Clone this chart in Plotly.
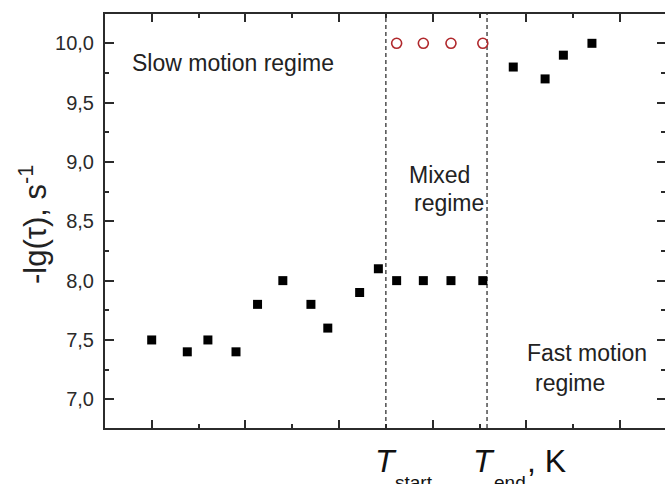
import plotly.graph_objects as go

# ---- data (x in arbitrary temperature units; axis has no numeric labels) ----
slow_x = [0.0, 0.76, 1.20, 1.80, 2.26, 2.80, 3.40, 3.76, 4.44, 4.84]
slow_y = [7.5, 7.4, 7.5, 7.4, 7.8, 8.0, 7.8, 7.6, 7.9, 8.1]

mixed_x = [5.23, 5.80, 6.39, 7.07]
mixed_slow_y = [8.0, 8.0, 8.0, 8.0]
mixed_fast_y = [10.0, 10.0, 10.0, 10.0]

fast_x = [7.72, 8.40, 8.79, 9.40]
fast_y = [9.8, 9.7, 9.9, 10.0]

T_start = 5.0
T_end = 7.16

y_tickvals = [7.0, 7.5, 8.0, 8.5, 9.0, 9.5, 10.0]
y_ticktext = ["7,0", "7,5", "8,0", "8,5", "9,0", "9,5", "10,0"]

FONT = "Arial, Liberation Sans, sans-serif"
AX = "#2b2b2b"

fig = go.Figure()

sq = dict(symbol="square", size=9, color="black", line=dict(width=0))
fig.add_trace(go.Scatter(x=slow_x, y=slow_y, mode="markers", marker=sq, showlegend=False))
fig.add_trace(go.Scatter(x=mixed_x, y=mixed_slow_y, mode="markers", marker=sq, showlegend=False))
fig.add_trace(go.Scatter(x=fast_x, y=fast_y, mode="markers", marker=sq, showlegend=False))
fig.add_trace(go.Scatter(x=mixed_x, y=mixed_fast_y, mode="markers",
                         marker=dict(symbol="circle-open", size=10, color="#b0282c",
                                     line=dict(width=1.6, color="#b0282c")),
                         showlegend=False))

# right-side ticks without a visible frame line
fig.add_trace(go.Scatter(x=[None], y=[None], yaxis="y2", showlegend=False))

for xv in (T_start, T_end):
    fig.add_shape(type="line", xref="x", yref="paper", x0=xv, x1=xv, y0=0, y1=1,
                  line=dict(color="#333333", width=1.3, dash="4px,3px"), layer="below")

yr = [6.758, 10.247]
xr = [-0.997, 10.96]

PLOT_TOP, PLOT_BOTTOM, PLOT_LEFT, PLOT_W = 14, 428, 105, 560
H = PLOT_BOTTOM - PLOT_TOP


def py(v):
    return (PLOT_BOTTOM - v) / H


def px(v):
    return (v - PLOT_LEFT) / PLOT_W


fig.update_layout(
    width=665, height=484,
    margin=dict(l=105, r=0, t=14, b=56),
    paper_bgcolor="white", plot_bgcolor="white",
    font=dict(family=FONT, color="#222222"),
    xaxis=dict(range=xr, showgrid=False, zeroline=False, showline=True,
               linecolor=AX, linewidth=2, mirror="ticks",
               ticks="inside", ticklen=8, tickwidth=2, tickcolor=AX,
               tickvals=[0, 2, 4, 6, 8, 10], showticklabels=False,
               minor=dict(ticks="inside", ticklen=4, tickwidth=1.5, tickcolor=AX,
                          tickvals=[1, 3, 5, 7, 9])),
    yaxis=dict(range=yr, showgrid=False, zeroline=False, showline=True,
               linecolor=AX, linewidth=2,
               ticks="inside", ticklen=9, tickwidth=2, tickcolor=AX,
               tickvals=y_tickvals, ticktext=y_ticktext, ticklabelstandoff=5,
               tickfont=dict(size=20, family=FONT, color="#2a2a2a"),
               minor=dict(ticks="inside", ticklen=4, tickwidth=1.5, tickcolor=AX,
                          tickvals=[6.75, 7.25, 7.75, 8.25, 8.75, 9.25, 9.75, 10.25])),
    yaxis2=dict(range=yr, overlaying="y", side="right", showgrid=False, zeroline=False,
                showline=False, ticks="inside", ticklen=8, tickwidth=2, tickcolor=AX,
                tickvals=y_tickvals, showticklabels=False,
                minor=dict(ticks="inside", ticklen=4, tickwidth=1.5, tickcolor=AX,
                           tickvals=[7.25, 7.75, 8.25, 8.75, 9.25, 9.75])),
)

txt = dict(size=23, family=FONT, color="#222222")
fig.add_annotation(text="Slow motion regime", xref="paper", yref="y", x=px(130), y=9.83,
                   xanchor="left", yanchor="middle", showarrow=False, font=txt)
fig.add_annotation(text="Mixed", xref="paper", yref="paper", x=px(407), y=py(175),
                   xanchor="left", yanchor="middle", showarrow=False, font=txt)
fig.add_annotation(text="regime", xref="paper", yref="paper", x=px(412), y=py(203),
                   xanchor="left", yanchor="middle", showarrow=False, font=txt)
fig.add_annotation(text="Fast motion", xref="paper", yref="paper", x=px(525), y=py(353),
                   xanchor="left", yanchor="middle", showarrow=False, font=txt)
fig.add_annotation(text="regime", xref="paper", yref="paper", x=px(533), y=py(383),
                   xanchor="left", yanchor="middle", showarrow=False, font=txt)

# y-axis title
fig.add_annotation(text="-lg(τ), s<sup>-1</sup>", xref="paper", yref="paper",
                   x=px(33), y=py(225), textangle=-90,
                   xanchor="center", yanchor="middle", showarrow=False,
                   font=dict(size=31, family=FONT, color="#222222"))

# x-axis labels under the dashed lines
big = dict(size=32, family=FONT, color="#111111")
small = dict(size=19, family=FONT, color="#111111")
common = dict(xref="x", yref="paper", xanchor="left", yanchor="top", showarrow=False)
fig.add_annotation(text="<i>T</i>", x=T_start, y=py(441.5), xshift=-13, font=big, **common)
fig.add_annotation(text="start", x=T_start, y=py(470), xshift=7, font=small, **common)
fig.add_annotation(text="<i>T</i>", x=T_end, y=py(441.5), xshift=-16, font=big, **common)
fig.add_annotation(text="end", x=T_end, y=py(470), xshift=5, font=small, **common)
fig.add_annotation(text=", K", x=T_end, y=py(441.5), xshift=38, font=big, **common)

fig.write_html("out.html", config={"displayModeBar": False},
               post_script="document.body.style.margin='0';document.body.style.overflow='hidden';")
